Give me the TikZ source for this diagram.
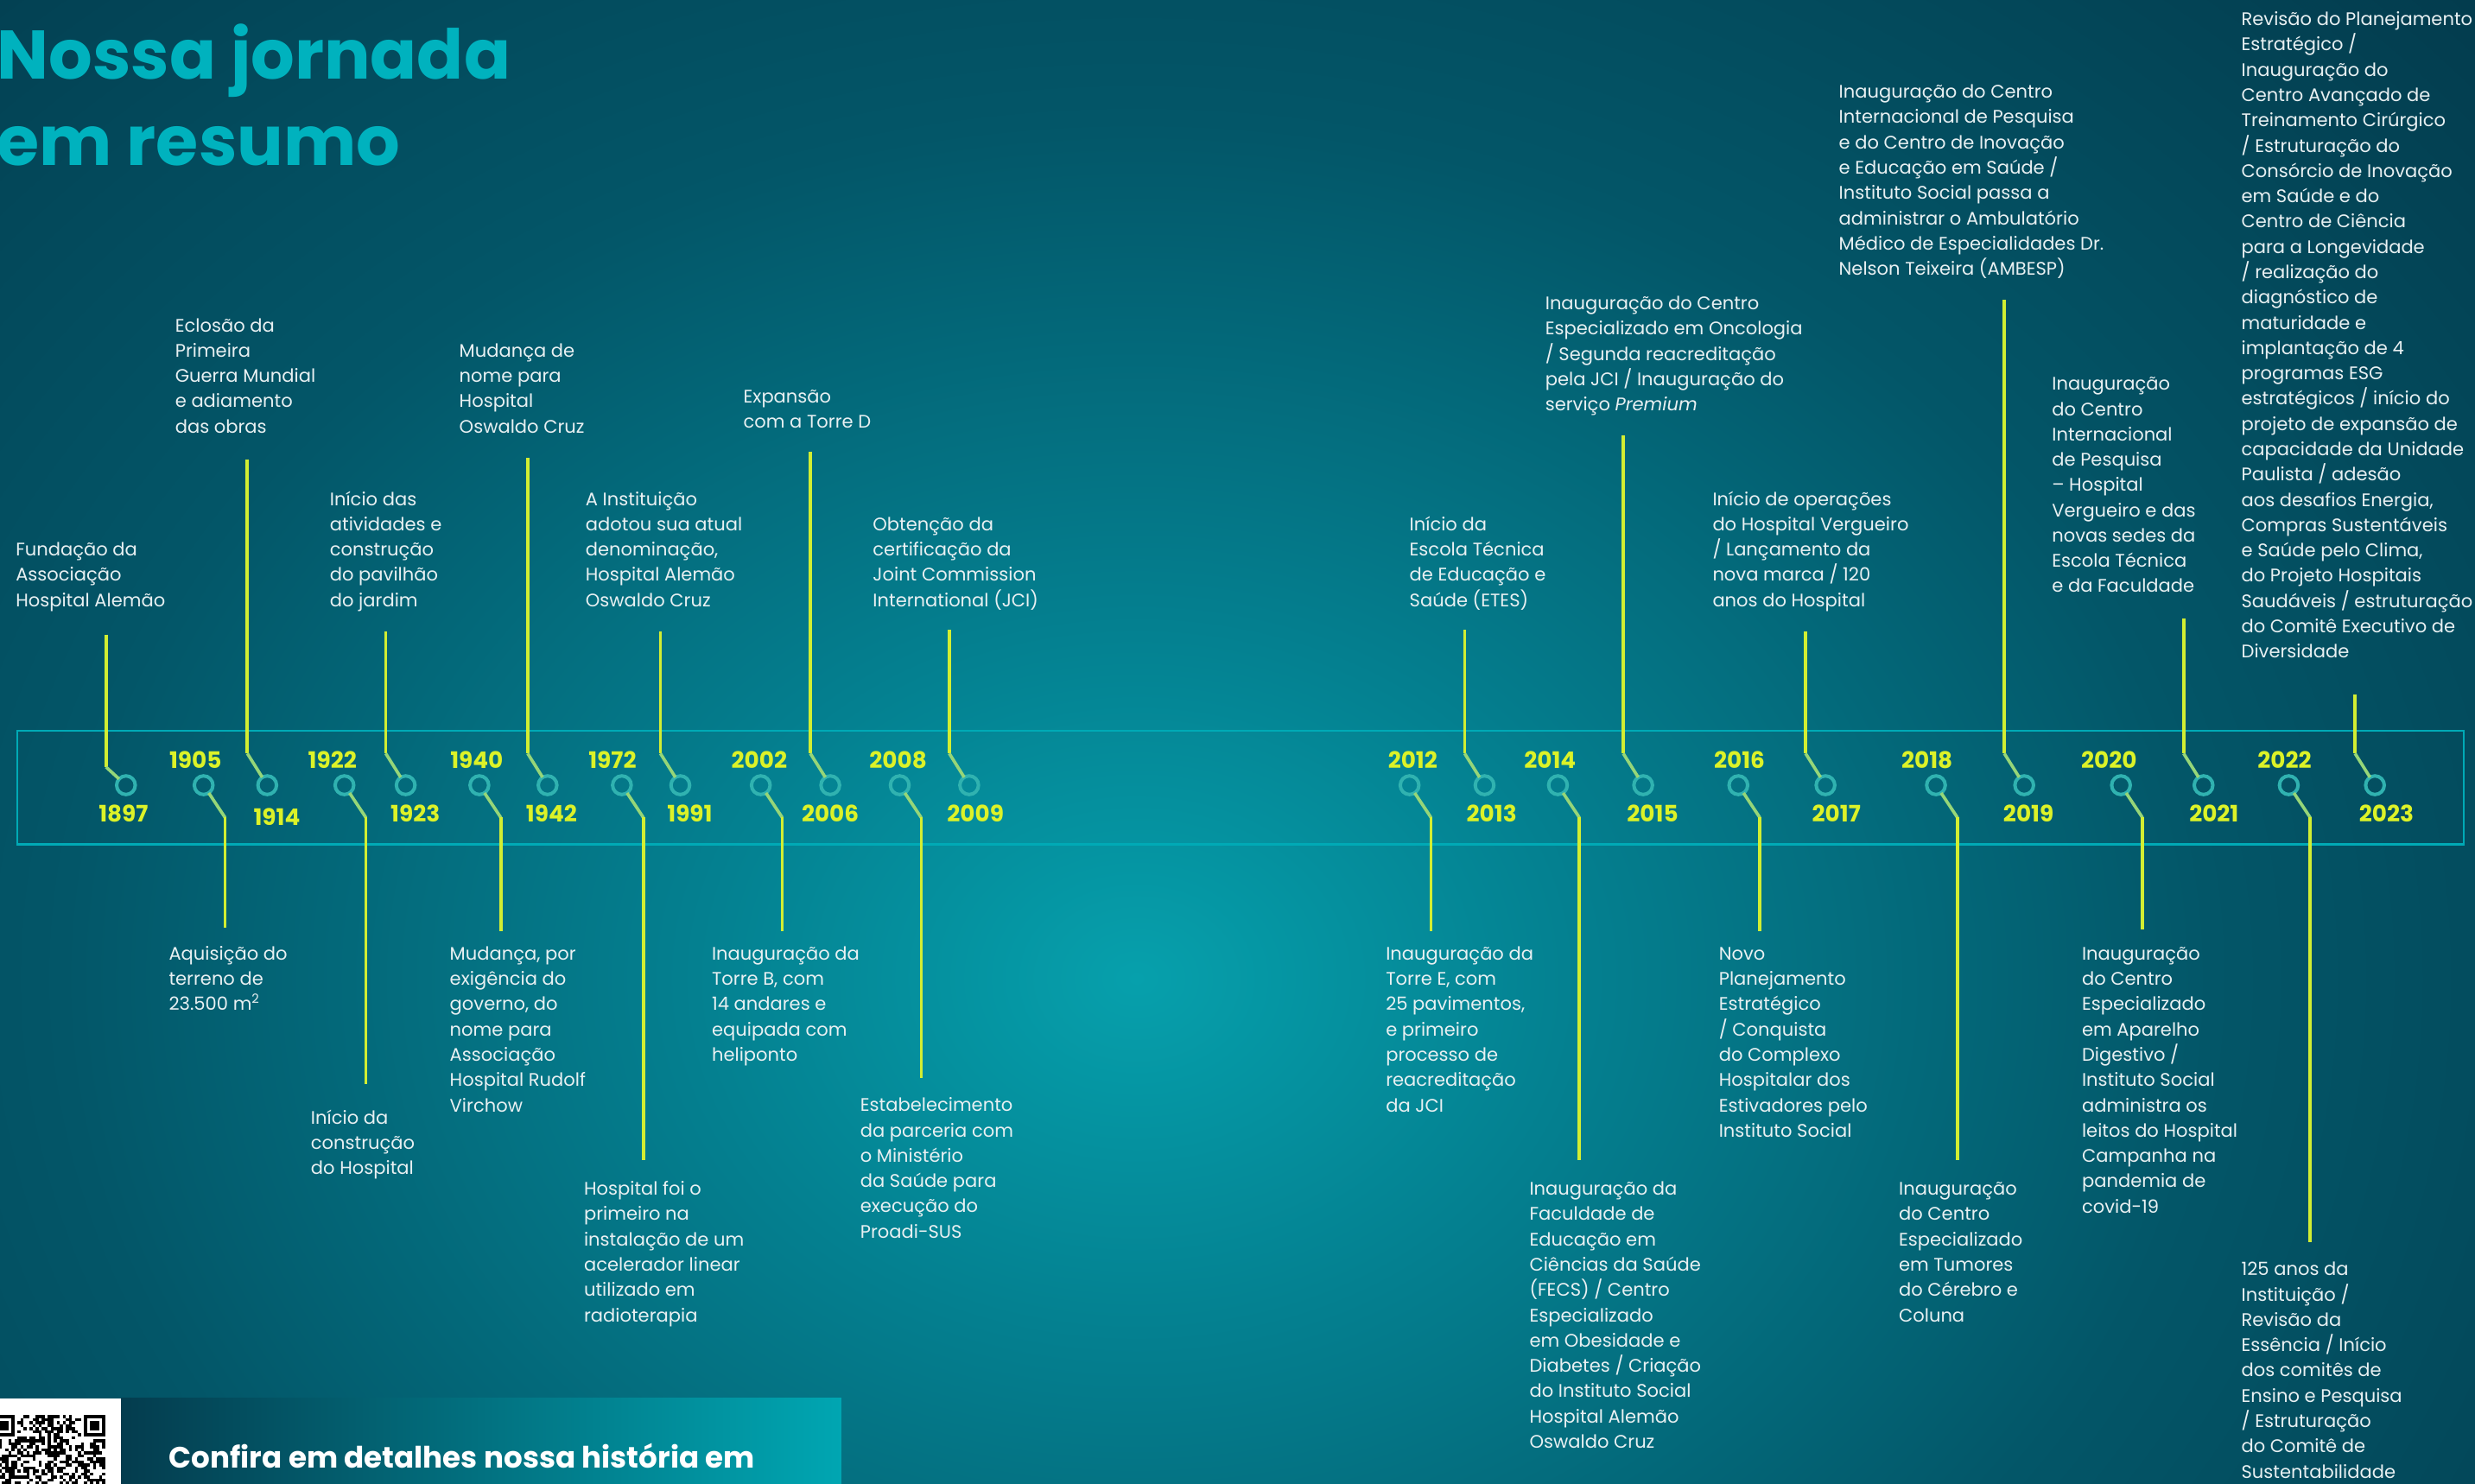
\documentclass[tikz,border=0pt]{standalone}
\usepackage{fontspec}
\setmainfont{Poppins}
\definecolor{bgdark}{RGB}{3,57,75}
\definecolor{glowA}{RGB}{6,160,172}
\definecolor{glowB}{RGB}{4,128,144}
\definecolor{glowC}{RGB}{3,86,104}
\definecolor{txtc}{RGB}{232,240,242}
\definecolor{yel}{RGB}{220,242,40}
\definecolor{vlc}{RGB}{210,238,50}
\definecolor{dlc}{RGB}{150,214,120}
\definecolor{ringc}{RGB}{48,178,176}
\definecolor{titc}{RGB}{0,178,190}
\definecolor{boxc}{RGB}{0,170,182}
\definecolor{banL}{RGB}{4,60,78}
\definecolor{banR}{RGB}{0,166,178}
\pgfdeclareradialshading{glow}{\pgfpoint{0bp}{0bp}}{color(0bp)=(glowA); color(7bp)=(glowB); color(17bp)=(glowC); color(30bp)=(bgdark); color(50bp)=(bgdark)}

\newcommand\upev[6]{%
  \node[ring] (r#1) at (#2,497.5) {};
  \coordinate (t#1) at (#2-12.6,#3);
  \coordinate (b#1) at (#2-12.6,#4);
  \draw[vline] (t#1) -- (b#1);
  \draw[dline] (b#1) -- (r#1);
  \node[yr] (y#1) at (#5,#6) {#1};
}
\newcommand\lowev[4]{%
  \node[ring] (r#1) at (#2,497.5) {};
  \coordinate (b#1) at (#2+13.6,518);
  \coordinate (e#1) at (#2+13.6,#3);
  \draw[dline] (r#1) -- (b#1);
  \draw[vline] (b#1) -- (e#1);
  \node[yr] (y#1) at (#4,481.6) {#1};
}
\newcommand\evtext[4]{%
  \node[evtxt] (x#1) at (#2,#3-8) {\strut #4};
}

\begin{document}
\begin{tikzpicture}[x=0.5mm,y=-0.5mm,
  evtxt/.style={anchor=north west, align=left, inner sep=0pt, outer sep=0pt, text=txtc, font=\fontsize{16.4pt}{22.8pt}\selectfont},
  yr/.style={inner sep=0pt, text=yel, font=\fontsize{20.5pt}{22pt}\selectfont\bfseries},
  ring/.style={circle, draw=ringc, line width=1.1mm, minimum size=5.9mm, inner sep=0pt, outer sep=0pt},
  vline/.style={draw=vlc, line width=1mm},
  dline/.style={draw=dlc, line width=1mm},
  title/.style={anchor=north west, align=left, inner sep=0pt, text=titc, font=\fontsize{62pt}{78pt}\selectfont\bfseries},
  bantxt/.style={anchor=base west, inner sep=0pt, text=white, font=\fontsize{26.6pt}{30pt}\selectfont\bfseries}
]
% background
\fill[bgdark] (0,0) rectangle (1568,940);
\useasboundingbox (0,0) rectangle (1568,940);
\begin{scope}
  \clip (0,0) rectangle (1568,940);
  \shade[shading=glow] (-280,-180) rectangle (1720,1420);
\end{scope}

% title
\node[title] (title) at (-2,11.6) {\strut Nossa jornada\\em resumo};

% timeline band
\draw[draw=boxc, line width=0.6mm] (11,463) rectangle (1561,535);

% upper events
\upev{1897}{79.8}{402}{486}{78.2}{515.4}
\upev{1914}{169.3}{291}{477.4}{175.4}{517.4}
\upev{1923}{257}{400}{477.4}{263.1}{515.4}
\upev{1942}{346.9}{290}{477.4}{349.4}{515.4}
\upev{1991}{431}{400}{477.4}{437}{515.4}
\upev{2006}{526}{286}{477.4}{526}{515.4}
\upev{2009}{614}{399}{477.4}{618}{515.4}
\upev{2013}{940.5}{399}{477.4}{945}{515.4}
\upev{2015}{1041}{276}{477.4}{1047}{515.4}
\upev{2017}{1156.5}{400}{477.4}{1163.4}{515.4}
\upev{2019}{1282.4}{190}{477.4}{1285.1}{515.4}
\upev{2021}{1396}{392}{477.4}{1402.6}{515.4}
\upev{2023}{1504.6}{440}{477.4}{1511.9}{515.4}

% lower events
\lowev{1905}{129}{588}{123.8}
\lowev{1922}{218.2}{687}{210.6}
\lowev{1940}{303.7}{590}{302}
\lowev{1972}{394}{735}{388}
\lowev{2002}{482}{590}{481}
\lowev{2008}{570}{683}{569}
\lowev{2012}{893}{590}{895}
\lowev{2014}{987}{735}{982}
\lowev{2016}{1101.3}{590}{1102}
\lowev{2018}{1226.5}{735}{1220.8}
\lowev{2020}{1343.7}{589}{1336.1}
\lowev{2022}{1450}{787}{1447.3}

% upper texts
\evtext{1897}{10}{349}{Fundação da\\Associação\\Hospital Alemão}
\evtext{1914}{111}{207}{Eclosão da\\Primeira\\Guerra Mundial\\e adiamento\\das obras}
\evtext{1923}{209}{317}{Início das\\atividades e\\construção\\do pavilhão\\do jardim}
\evtext{1942}{291}{223}{Mudança de\\nome para\\Hospital\\Oswaldo Cruz}
\evtext{1991}{371}{317}{A Instituição\\adotou sua atual\\denominação,\\Hospital Alemão\\Oswaldo Cruz}
\evtext{2006}{471}{252}{Expansão\\com a Torre D}
\evtext{2009}{553}{333}{Obtenção da\\certificação da\\Joint Commission\\International (JCI)}
\evtext{2013}{893}{333}{Início da\\Escola Técnica\\de Educação e\\Saúde (ETES)}
\evtext{2015}{979}{193}{Inauguração do Centro\\Especializado em Oncologia\\/ Segunda reacreditação\\pela JCI / Inauguração do\\serviço \textit{Premium}}
\evtext{2017}{1085}{317}{Início de operações\\do Hospital Vergueiro\\/ Lançamento da\\nova marca / 120\\anos do Hospital}
\evtext{2019}{1165}{59}{Inauguração do Centro\\Internacional de Pesquisa\\e do Centro de Inovação\\e Educação em Saúde /\\Instituto Social passa a\\administrar o Ambulatório\\Médico de Especialidades Dr.\\Nelson Teixeira (AMBESP)}
\evtext{2021}{1300}{244}{Inauguração\\do Centro\\Internacional\\de Pesquisa\\– Hospital\\Vergueiro e das\\novas sedes da\\Escola Técnica\\e da Faculdade}
\evtext{2023}{1420}{13}{Revisão do Planejamento\\Estratégico /\\Inauguração do\\Centro Avançado de\\Treinamento Cirúrgico\\/ Estruturação do\\Consórcio de Inovação\\em Saúde e do\\Centro de Ciência\\para a Longevidade\\/ realização do\\diagnóstico de\\maturidade e\\implantação de 4\\programas ESG\\estratégicos / início do\\projeto de expansão de\\capacidade da Unidade\\Paulista / adesão\\aos desafios Energia,\\Compras Sustentáveis\\e Saúde pelo Clima,\\do Projeto Hospitais\\Saudáveis / estruturação\\do Comitê Executivo de\\Diversidade}

% lower texts
\evtext{1905}{107}{605}{Aquisição do\\terreno de\\23.500 m\textsuperscript{2}}
\evtext{1922}{197}{709}{Início da\\construção\\do Hospital}
\evtext{1940}{285}{605}{Mudança, por\\exigência do\\governo, do\\nome para\\Associação\\Hospital Rudolf\\Virchow}
\evtext{1972}{370}{754}{Hospital foi o\\primeiro na\\instalação de um\\acelerador linear\\utilizado em\\radioterapia}
\evtext{2002}{451}{605}{Inauguração da\\Torre B, com\\14 andares e\\equipada com\\heliponto}
\evtext{2008}{545}{701}{Estabelecimento\\da parceria com\\o Ministério\\da Saúde para\\execução do\\Proadi-SUS}
\evtext{2012}{878}{605}{Inauguração da\\Torre E, com\\25 pavimentos,\\e primeiro\\processo de\\reacreditação\\da JCI}
\evtext{2014}{969}{754}{Inauguração da\\Faculdade de\\Educação em\\Ciências da Saúde\\(FECS) / Centro\\Especializado\\em Obesidade e\\Diabetes / Criação\\do Instituto Social\\Hospital Alemão\\Oswaldo Cruz}
\evtext{2016}{1089}{605}{Novo\\Planejamento\\Estratégico\\/ Conquista\\do Complexo\\Hospitalar dos\\Estivadores pelo\\Instituto Social}
\evtext{2018}{1203}{754}{Inauguração\\do Centro\\Especializado\\em Tumores\\do Cérebro e\\Coluna}
\evtext{2020}{1319}{605}{Inauguração\\do Centro\\Especializado\\em Aparelho\\Digestivo /\\Instituto Social\\administra os\\leitos do Hospital\\Campanha na\\pandemia de\\covid-19}
\evtext{2022}{1420}{805}{125 anos da\\Instituição /\\Revisão da\\Essência / Início\\dos comitês de\\Ensino e Pesquisa\\/ Estruturação\\do Comitê de\\Sustentabilidade}

% bottom banner
\shade[left color=banL, right color=banR] (76.5,886) rectangle (533,940);
\fill[white] (0,886) rectangle (76.5,940);
% QR-like code
\pgfmathsetseed{4711}
\foreach \i in {0,...,36}{
  \foreach \j in {0,...,22}{
    \pgfmathrandominteger{\rr}{0}{1}
    \pgfmathtruncatemacro{\sk}{or(and(\i<8,\j<8),and(\i>28,\j<8))}
    \ifnum\sk=0 \ifnum\rr=1
      \fill[black] (-4.4+1.92*\i,896.5+1.92*\j) rectangle ++(1.92,1.92);
    \fi\fi
  }
}
\foreach \c in {0,30}{
  \fill[black] (-4.4+1.92*\c,896.5) rectangle ++(13.44,13.44);
  \fill[white] (-4.4+1.92*\c+1.92,896.5+1.92) rectangle ++(9.6,9.6);
  \fill[black] (-4.4+1.92*\c+3.84,896.5+3.84) rectangle ++(5.76,5.76);
}
\node[bantxt] (ban) at (107,930) {Confira em detalhes nossa história em};
\end{tikzpicture}
\end{document}
